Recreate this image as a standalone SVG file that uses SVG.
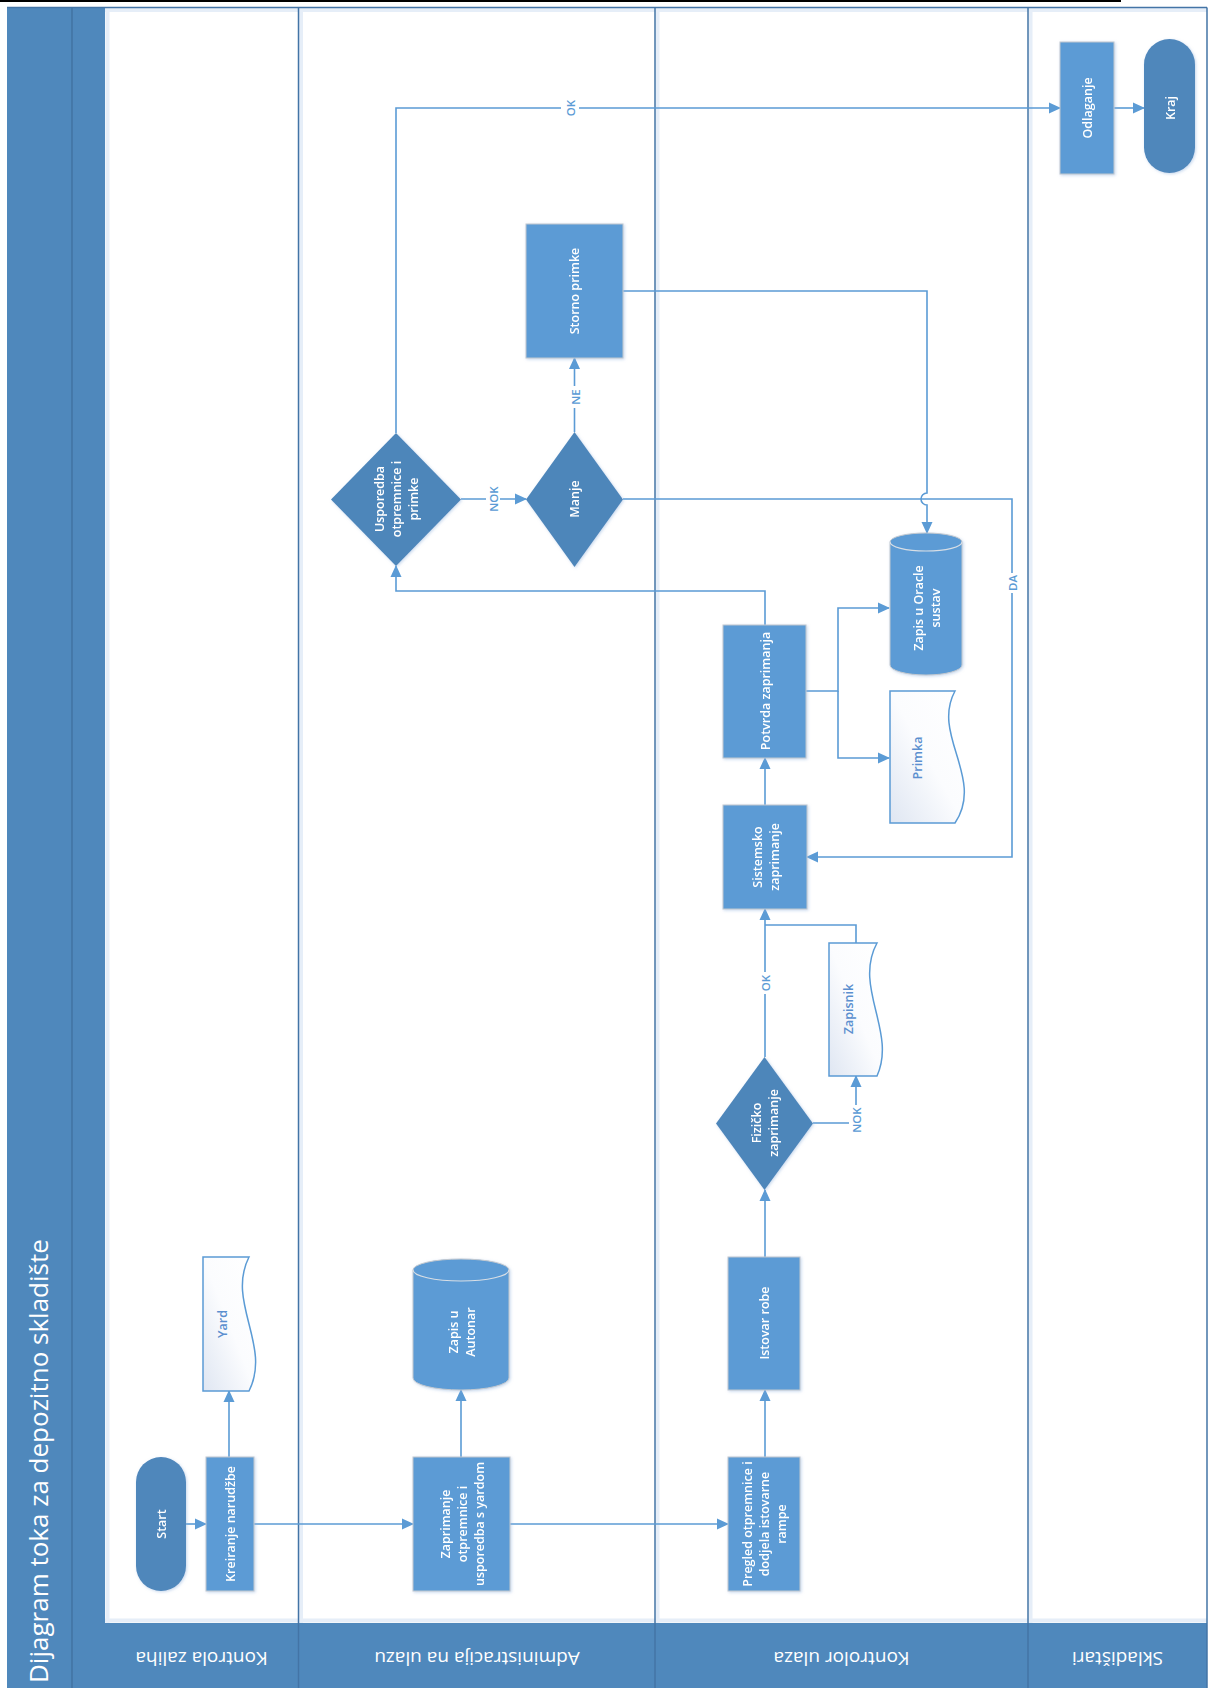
<svg xmlns="http://www.w3.org/2000/svg" width="1214" height="1688" viewBox="0 0 1214 1688">
<defs>
<style>
.pool{fill:#4f88bc}
.sep{stroke:#3e6e9c;stroke-width:1.2;fill:none}
.lane{stroke:#4374a6;stroke-width:1.5;fill:none}
.glow{stroke:#e6eef8;stroke-width:4;fill:none}
.proc{fill:#5b9bd5;stroke:#c2c8cf;stroke-width:1}
.dec{fill:#4e86ba}
.term{fill:#4f87bb}
.db{fill:#5b9bd5;stroke:#c2c8cf;stroke-width:1}
.dbin{fill:none;stroke:#d8dee5;stroke-width:1.2}
.doc{fill:url(#dg);stroke:#5b9bd5;stroke-width:1.5}
.c{fill:none;stroke:#5b9bd5;stroke-width:1.6}
.ca{marker-end:url(#ah)}
.lb{fill:#fff}
.t{font-family:"Open Sans","Noto Sans","DejaVu Sans",sans-serif;font-size:12.5px;font-weight:600;fill:#fff;text-anchor:middle;dominant-baseline:central}
.td{fill:#5b8fcf}
.lbl{font-family:"Open Sans","Noto Sans","DejaVu Sans",sans-serif;font-size:11.5px;font-weight:600;fill:#5b9bd5;text-anchor:middle;dominant-baseline:central}
.lt{font-family:"Open Sans","Noto Sans","DejaVu Sans",sans-serif;font-size:19px;font-weight:500;fill:#fff;text-anchor:middle}
.title{font-family:"Open Sans","Noto Sans","DejaVu Sans",sans-serif;font-size:26px;fill:#fff}
</style>
<marker id="ah" viewBox="0 0 12 12" refX="11" refY="6" markerWidth="12" markerHeight="12" markerUnits="userSpaceOnUse" orient="auto"><path d="M0,0.5 L12,6 L0,11.5 z" fill="#5b9bd5"/></marker>
<linearGradient id="dg" x1="1" y1="0" x2="0" y2="1"><stop offset="0" stop-color="#ffffff"/><stop offset="0.5" stop-color="#fbfcfe"/><stop offset="1" stop-color="#dfe6f2"/></linearGradient>
<filter id="sh" x="-20%" y="-20%" width="140%" height="140%"><feDropShadow dx="1" dy="1" stdDeviation="1.5" flood-color="#8fb1dc" flood-opacity="0.5"/></filter>
</defs>
<rect x="0" y="0" width="1214" height="1688" fill="#fff"/>
<line x1="0" y1="1" x2="1121" y2="1" stroke="#000" stroke-width="2"/>

<g id="pool">
<rect class="pool" x="7" y="7.5" width="98" height="1681"/>
<line class="sep" x1="72" y1="7.5" x2="72" y2="1688"/>
<line class="glow" x1="107.5" y1="7.5" x2="107.5" y2="1623"/>
<line class="glow" x1="301" y1="7.5" x2="301" y2="1623"/>
<line class="glow" x1="657.5" y1="7.5" x2="657.5" y2="1623"/>
<line class="glow" x1="1030.5" y1="7.5" x2="1030.5" y2="1623"/>
<line class="glow" x1="105" y1="10" x2="1207" y2="10"/>
<line class="glow" x1="105" y1="1620.5" x2="1207" y2="1620.5"/>
<rect class="pool" x="105" y="1623" width="1102" height="65"/>
<line class="lane" x1="7" y1="7.5" x2="1207" y2="7.5"/>
<line class="lane" x1="1207" y1="7.5" x2="1207" y2="1688"/>
<line class="lane" x1="298.5" y1="7.5" x2="298.5" y2="1688"/>
<line class="lane" x1="655" y1="7.5" x2="655" y2="1688"/>
<line class="lane" x1="1028" y1="7.5" x2="1028" y2="1688"/>
<text class="title" transform="translate(48,1683) rotate(-90)">Dijagram toka za depozitno skladište</text>
<text class="lt" transform="translate(201.5,1652) rotate(180)">Kontrola zaliha</text>
<text class="lt" transform="translate(477,1652) rotate(180)">Administracija na ulazu</text>
<text class="lt" transform="translate(841.5,1652) rotate(180)">Kontrolor ulaza</text>
<text class="lt" transform="translate(1117.5,1652) rotate(180)">Skladištari</text>
</g>

<g id="connectors">
<path class="c ca" d="M186,1524 H206"/>
<path class="c ca" d="M229,1457 V1391"/>
<path class="c ca" d="M254,1524 H413"/>
<path class="c ca" d="M461,1457 V1390"/>
<path class="c ca" d="M510,1524 H728"/>
<path class="c ca" d="M765,1457 V1390"/>
<path class="c ca" d="M765,1257 V1190"/>
<path class="c ca" d="M765,1057 V909"/>
<path class="c ca" d="M813,1123 H856 V1076"/>
<path class="c" d="M856,943 V925 H765"/>
<path class="c ca" d="M765,805 V758"/>
<path class="c ca" d="M806,691 H838 V608 H889"/>
<path class="c ca" d="M838,691 V758 H889"/>
<path class="c ca" d="M765,625 V591 H396 V566"/>
<path class="c ca" d="M461,499 H526"/>
<path class="c ca" d="M574.5,432 V358"/>
<path class="c ca" d="M623,291 H927 V493 a6,6 0 0 0 0,12 V533"/>
<path class="c ca" d="M623,499 H1012 V857 H807"/>
<path class="c ca" d="M396,433 V108 H1060"/>
<path class="c ca" d="M1114,108 H1144"/>
<rect class="lb" x="561" y="98" width="18" height="20"/>
<text class="lbl" transform="translate(570,108) rotate(-90)">OK</text>
<rect class="lb" x="486" y="485" width="14" height="28"/>
<text class="lbl" transform="translate(493,499) rotate(-90)">NOK</text>
<rect class="lb" x="568" y="386" width="14" height="22"/>
<text class="lbl" transform="translate(575,397) rotate(-90)">NE</text>
<rect class="lb" x="758" y="972" width="14" height="22"/>
<text class="lbl" transform="translate(765,983) rotate(-90)">OK</text>
<rect class="lb" x="849" y="1105" width="14" height="29"/>
<text class="lbl" transform="translate(856,1120) rotate(-90)">NOK</text>
<rect class="lb" x="1005" y="573" width="14" height="20"/>
<text class="lbl" transform="translate(1012,583) rotate(-90)">DA</text>
</g>

<g id="start" filter="url(#sh)">
<rect class="term" x="136" y="1457" width="50" height="134" rx="25"/>
<text class="t" transform="translate(161,1524) rotate(-90)">Start</text>
</g>
<g id="kreiranje" filter="url(#sh)">
<rect class="proc" x="206" y="1457" width="48" height="134"/>
<text class="t" transform="translate(230,1524) rotate(-90)">Kreiranje narudžbe</text>
</g>
<g id="yard">
<path class="doc" d="M203,1257 H249 C226,1302 272,1346 249,1391 H203 Z"/>
<text class="t td" transform="translate(222,1324) rotate(-90)">Yard</text>
</g>
<g id="zaprimanje" filter="url(#sh)">
<rect class="proc" x="413" y="1457" width="97" height="134"/>
<text class="t" transform="translate(461.5,1524) rotate(-90)"><tspan x="0" y="-17">Zaprimanje</tspan><tspan x="0" y="0">otpremnice i</tspan><tspan x="0" y="17">usporedba s yardom</tspan></text>
</g>
<g id="autonar" filter="url(#sh)">
<path class="db" d="M413,1270 A48,11 0 0 1 509,1270 V1378 A48,12 0 0 1 413,1378 Z"/>
<path class="dbin" d="M413,1270 A48,11 0 0 0 509,1270"/>
<text class="t" transform="translate(461,1332) rotate(-90)"><tspan x="0" y="-8.5">Zapis u</tspan><tspan x="0" y="8.5">Autonar</tspan></text>
</g>
<g id="pregled" filter="url(#sh)">
<rect class="proc" x="728" y="1457" width="72" height="134"/>
<text class="t" transform="translate(764,1524) rotate(-90)"><tspan x="0" y="-17">Pregled otpremnice i</tspan><tspan x="0" y="0">dodjela istovarne</tspan><tspan x="0" y="17">rampe</tspan></text>
</g>
<g id="istovar" filter="url(#sh)">
<rect class="proc" x="728" y="1257" width="72" height="133"/>
<text class="t" transform="translate(764,1323) rotate(-90)">Istovar robe</text>
</g>
<g id="fizicko" filter="url(#sh)">
<path class="dec" d="M764.5,1057 L813,1123.5 L764.5,1190 L716,1123.5 Z"/>
<text class="t" transform="translate(764,1123) rotate(-90)"><tspan x="0" y="-8.5">Fizičko</tspan><tspan x="0" y="8.5">zaprimanje</tspan></text>
</g>
<g id="zapisnik">
<path class="doc" d="M829,943 H877 C853,987 897,1032 877,1076 H829 Z"/>
<text class="t td" transform="translate(848,1009) rotate(-90)">Zapisnik</text>
</g>
<g id="sistemsko" filter="url(#sh)">
<rect class="proc" x="723" y="805" width="84" height="104"/>
<text class="t" transform="translate(765,857) rotate(-90)"><tspan x="0" y="-8.5">Sistemsko</tspan><tspan x="0" y="8.5">zaprimanje</tspan></text>
</g>
<g id="potvrda" filter="url(#sh)">
<rect class="proc" x="723" y="625" width="83" height="133"/>
<text class="t" transform="translate(765,691) rotate(-90)">Potvrda zaprimanja</text>
</g>
<g id="primka">
<path class="doc" d="M890,691 H955 C931,735 985,778 955,823 H890 Z"/>
<text class="t td" transform="translate(917,758) rotate(-90)">Primka</text>
</g>
<g id="oracle" filter="url(#sh)">
<path class="db" d="M890,542 A36,9 0 0 1 962,542 V665 A36,10 0 0 1 890,665 Z"/>
<path class="dbin" d="M890,542 A36,9 0 0 0 962,542"/>
<text class="t" transform="translate(926.5,608) rotate(-90)"><tspan x="0" y="-8.5">Zapis u Oracle</tspan><tspan x="0" y="8.5">sustav</tspan></text>
</g>
<g id="usporedba" filter="url(#sh)">
<path class="dec" d="M396,433 L461,499.5 L396,566 L331,499.5 Z"/>
<text class="t" transform="translate(396,499) rotate(-90)"><tspan x="0" y="-17">Usporedba</tspan><tspan x="0" y="0">otpremnice i</tspan><tspan x="0" y="17">primke</tspan></text>
</g>
<g id="manje" filter="url(#sh)">
<path class="dec" d="M574.5,432 L623,499.5 L574.5,567 L526,499.5 Z"/>
<text class="t" transform="translate(574.5,499) rotate(-90)">Manje</text>
</g>
<g id="storno" filter="url(#sh)">
<rect class="proc" x="526" y="224" width="97" height="134"/>
<text class="t" transform="translate(574.5,291) rotate(-90)">Storno primke</text>
</g>
<g id="odlaganje" filter="url(#sh)">
<rect class="proc" x="1060" y="42" width="54" height="132"/>
<text class="t" transform="translate(1087,108) rotate(-90)">Odlaganje</text>
</g>
<g id="kraj" filter="url(#sh)">
<rect class="term" x="1144" y="39" width="51" height="134" rx="25.5"/>
<text class="t" transform="translate(1170,108) rotate(-90)">Kraj</text>
</g>
</svg>
